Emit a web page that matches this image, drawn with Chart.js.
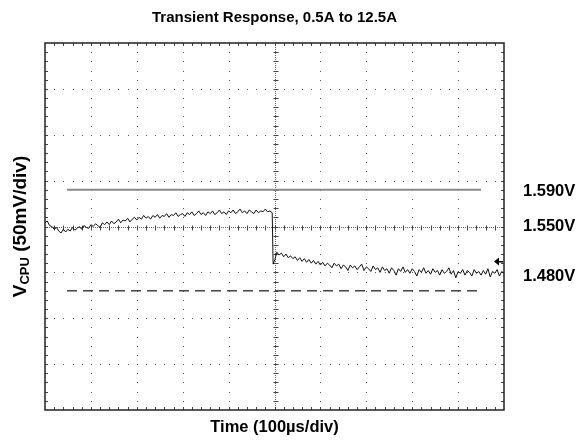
<!DOCTYPE html>
<html>
<head>
<meta charset="utf-8">
<script src="https://cdn.jsdelivr.net/npm/chart.js@4.4.1/dist/chart.umd.min.js"></script>
<style>
  html, body { margin: 0; padding: 0; background: #fff; }
  #wrap { width: 579px; height: 441px; }
</style>
</head>
<body>
<div id="wrap"><canvas id="scope"></canvas></div>
<script>
// scope capture, time in us, VCPU in volts (50mV/div, 100us/div)
const timeUs = [
  0, 5, 10, 15, 20, 25, 30, 35, 40, 45, 50, 55, 60, 65, 70, 75, 80, 85, 90, 95,
  100, 105, 110, 115, 120, 125, 130, 135, 140, 145, 150, 155, 160, 165, 170, 175, 180, 185, 190, 195,
  200, 205, 210, 215, 220, 225, 230, 235, 240, 245, 250, 255, 260, 265, 270, 275, 280, 285, 290, 295,
  300, 305, 310, 315, 320, 325, 330, 335, 340, 345, 350, 355, 360, 365, 370, 375, 380, 385, 390, 395,
  400, 405, 410, 415, 420, 425, 430, 435, 440, 445, 450, 455, 460, 465, 470, 475, 480, 485, 490, 495,
  497, 501,
  505, 510, 515, 520, 525, 530, 535, 540, 545, 550, 555, 560, 565, 570, 575, 580, 585, 590, 595, 600,
  605, 610, 615, 620, 625, 630, 635, 640, 645, 650, 655, 660, 665, 670, 675, 680, 685, 690, 695, 700,
  705, 710, 715, 720, 725, 730, 735, 740, 745, 750, 755, 760, 765, 770, 775, 780, 785, 790, 795, 800,
  805, 810, 815, 820, 825, 830, 835, 840, 845, 850, 855, 860, 865, 870, 875, 880, 885, 890, 895, 900,
  905, 910, 915, 920, 925, 930, 935, 940, 945, 950, 955, 960, 965, 970, 975, 980, 985, 990, 995, 1000
];
const vcpu = [
  1.554, 1.556, 1.551, 1.550, 1.547, 1.549, 1.545, 1.543, 1.547, 1.544,
  1.547, 1.545, 1.549, 1.546, 1.548, 1.550, 1.547, 1.551, 1.549, 1.548,
  1.552, 1.550, 1.553, 1.551, 1.549, 1.554, 1.552, 1.555, 1.552, 1.556,
  1.553, 1.555, 1.558, 1.554, 1.557, 1.556, 1.559, 1.555, 1.558, 1.560,
  1.557, 1.560, 1.558, 1.562, 1.559, 1.561, 1.558, 1.562, 1.560, 1.563,
  1.559, 1.562, 1.561, 1.564, 1.560, 1.563, 1.562, 1.565, 1.561, 1.563,
  1.564, 1.561, 1.565, 1.563, 1.566, 1.562, 1.564, 1.567, 1.563, 1.565,
  1.562, 1.566, 1.564, 1.567, 1.563, 1.565, 1.568, 1.564, 1.566, 1.563,
  1.567, 1.565, 1.568, 1.564, 1.566, 1.569, 1.565, 1.567, 1.564, 1.568,
  1.566, 1.564, 1.568, 1.565, 1.567, 1.566, 1.569, 1.566, 1.567, 1.565,
  1.509, 1.514,
  1.522, 1.519, 1.521, 1.517, 1.520, 1.516, 1.518, 1.515, 1.517, 1.513,
  1.516, 1.512, 1.515, 1.511, 1.514, 1.510, 1.513, 1.509, 1.512, 1.508,
  1.511, 1.507, 1.510, 1.508, 1.505, 1.510, 1.507, 1.509, 1.504, 1.508,
  1.506, 1.502, 1.508, 1.505, 1.507, 1.503, 1.506, 1.509, 1.502, 1.506,
  1.504, 1.501, 1.507, 1.503, 1.505, 1.500, 1.506, 1.502, 1.504, 1.499,
  1.505, 1.502, 1.497, 1.504, 1.501, 1.506, 1.500, 1.503, 1.499, 1.504,
  1.501, 1.496, 1.503, 1.500, 1.505, 1.499, 1.502, 1.498, 1.504, 1.500,
  1.502, 1.497, 1.503, 1.499, 1.501, 1.505, 1.498, 1.502, 1.494, 1.501,
  1.499, 1.503, 1.497, 1.502, 1.500, 1.496, 1.503, 1.499, 1.501, 1.497,
  1.502, 1.498, 1.504, 1.495, 1.501, 1.499, 1.503, 1.496, 1.501, 1.499
];

// reference cursors
const cursorSpan = [48, 950];
const upperLevel = 1.590;
const lowerLevel = 1.480;
const groundMarker = 1.512;

const levelLabels = ['1.590V', '1.550V', '1.480V'];
const levelValues = [1.590, 1.550, 1.480];

const FONT = "'Liberation Sans', Arial, sans-serif";
const labelShift = [2, 0, -14];

const xDivs = 10, yDivs = 8, minor = 5;

const scopeGrid = {
  id: 'scopeGrid',
  beforeDatasetsDraw(chart) {
    const { ctx, chartArea: a, scales: { x, y } } = chart;
    const xStep = (x.max - x.min) / xDivs;
    const yStep = (y.max - y.min) / yDivs;
    ctx.save();
    ctx.fillStyle = '#555';
    // dotted division lines
    for (let i = 1; i < xDivs; i++) {
      if (i === xDivs / 2) continue;
      const px = Math.round(x.getPixelForValue(x.min + i * xStep));
      for (let j = 1; j < yDivs * minor; j++) {
        ctx.fillRect(px, Math.round(y.getPixelForValue(y.min + j * yStep / minor)), 1, 1);
      }
    }
    for (let j = 1; j < yDivs; j++) {
      if (j === yDivs / 2) continue;
      const py = Math.round(y.getPixelForValue(y.min + j * yStep));
      for (let i = 1; i < xDivs * minor; i++) {
        ctx.fillRect(Math.round(x.getPixelForValue(x.min + i * xStep / minor)), py, 1, 1);
      }
    }
    // center graticule
    const cx = Math.round(x.getPixelForValue(x.min + xDivs / 2 * xStep)) + 0.5;
    const cy = Math.round(y.getPixelForValue(y.min + yDivs / 2 * yStep)) + 0.5;
    ctx.strokeStyle = '#666';
    ctx.lineWidth = 1;
    ctx.setLineDash([1, 1]);
    ctx.beginPath();
    ctx.moveTo(a.left, cy); ctx.lineTo(a.right, cy);
    ctx.moveTo(cx, a.top); ctx.lineTo(cx, a.bottom);
    ctx.stroke();
    ctx.setLineDash([]);
    ctx.beginPath();
    for (let i = 1; i < xDivs * minor; i++) {
      const px = Math.round(x.getPixelForValue(x.min + i * xStep / minor)) + 0.5;
      ctx.moveTo(px, cy - 2); ctx.lineTo(px, cy + 3);
      ctx.moveTo(px, a.top); ctx.lineTo(px, a.top + 3);
      ctx.moveTo(px, a.bottom); ctx.lineTo(px, a.bottom - 3);
    }
    for (let j = 1; j < yDivs * minor; j++) {
      const py = Math.round(y.getPixelForValue(y.min + j * yStep / minor)) + 0.5;
      ctx.moveTo(cx - 2, py); ctx.lineTo(cx + 3, py);
      ctx.moveTo(a.left, py); ctx.lineTo(a.left + 3, py);
      ctx.moveTo(a.right, py); ctx.lineTo(a.right - 3, py);
    }
    ctx.strokeStyle = '#444';
    ctx.stroke();
    ctx.restore();
  },
  afterDatasetsDraw(chart) {
    const { ctx, chartArea: a, scales: { y } } = chart;
    ctx.save();
    // frame
    ctx.strokeStyle = '#222';
    ctx.lineWidth = 1.5;
    ctx.strokeRect(a.left, a.top, a.right - a.left, a.bottom - a.top);
    // ground marker arrow
    const gy = Math.round(y.getPixelForValue(groundMarker)) + 0.5;
    ctx.fillStyle = '#000';
    ctx.beginPath();
    ctx.moveTo(a.right - 10, gy);
    ctx.lineTo(a.right - 5, gy - 4);
    ctx.lineTo(a.right - 5, gy + 4);
    ctx.closePath();
    ctx.fill();
    ctx.fillRect(a.right - 6, gy - 0.5, 5, 1.5);
    // titles
    const midX = (a.left + a.right) / 2;
    const midY = (a.top + a.bottom) / 2;
    ctx.fillStyle = '#000';
    ctx.textAlign = 'center';
    ctx.textBaseline = 'middle';
    ctx.font = 'bold 15px ' + FONT;
    ctx.fillText('Transient Response, 0.5A to 12.5A', midX, 18);
    ctx.font = 'bold 16.5px ' + FONT;
    ctx.fillText('Time (100\u00b5s/div)', midX, 427);
    // right side level labels
    ctx.textAlign = 'left';
    ctx.font = 'bold 16.5px ' + FONT;
    levelLabels.forEach((txt, i) => {
      ctx.fillText(txt, 523, y.getPixelForValue(levelValues[i]) + labelShift[i]);
    });
    // y title with subscript
    ctx.translate(19, midY);
    ctx.rotate(-Math.PI / 2);
    ctx.textBaseline = 'alphabetic';
    const big = 'bold 19px ' + FONT, small = 'bold 13px ' + FONT;
    ctx.font = big; const w1 = ctx.measureText('V').width;
    const w3 = ctx.measureText(' (50mV/div)').width;
    ctx.font = small; const w2 = ctx.measureText('CPU').width;
    let sx = -(w1 + w2 + w3) / 2;
    ctx.font = big; ctx.fillText('V', sx, 7); sx += w1;
    ctx.font = small; ctx.fillText('CPU', sx, 10); sx += w2;
    ctx.font = big; ctx.fillText(' (50mV/div)', sx, 7);
    ctx.restore();
  }
};

new Chart(document.getElementById('scope'), {
  type: 'line',
  data: {
    datasets: [
      {
        label: 'VCPU',
        data: timeUs.map((t, i) => ({ x: t, y: vcpu[i] })),
        borderColor: '#111',
        borderWidth: 1,
        pointRadius: 0,
        tension: 0
      },
      {
        label: 'Upper',
        data: cursorSpan.map(t => ({ x: t, y: upperLevel })),
        borderColor: '#8a8a8a',
        borderWidth: 2,
        pointRadius: 0
      },
      {
        label: 'Lower',
        data: cursorSpan.map(t => ({ x: t, y: lowerLevel })),
        borderColor: '#444',
        borderWidth: 1.5,
        borderDash: [10, 6],
        pointRadius: 0
      }
    ]
  },
  options: {
    responsive: true,
    maintainAspectRatio: false,
    animation: false,
    layout: { padding: { left: 45, right: 75, top: 43, bottom: 31 } },
    plugins: { legend: { display: false }, tooltip: { enabled: false } },
    scales: {
      x: { type: 'linear', min: 0, max: 1000, display: false },
      y: { type: 'linear', min: 1.35, max: 1.75, display: false }
    }
  },
  plugins: [scopeGrid]
});
</script>
</body>
</html>
